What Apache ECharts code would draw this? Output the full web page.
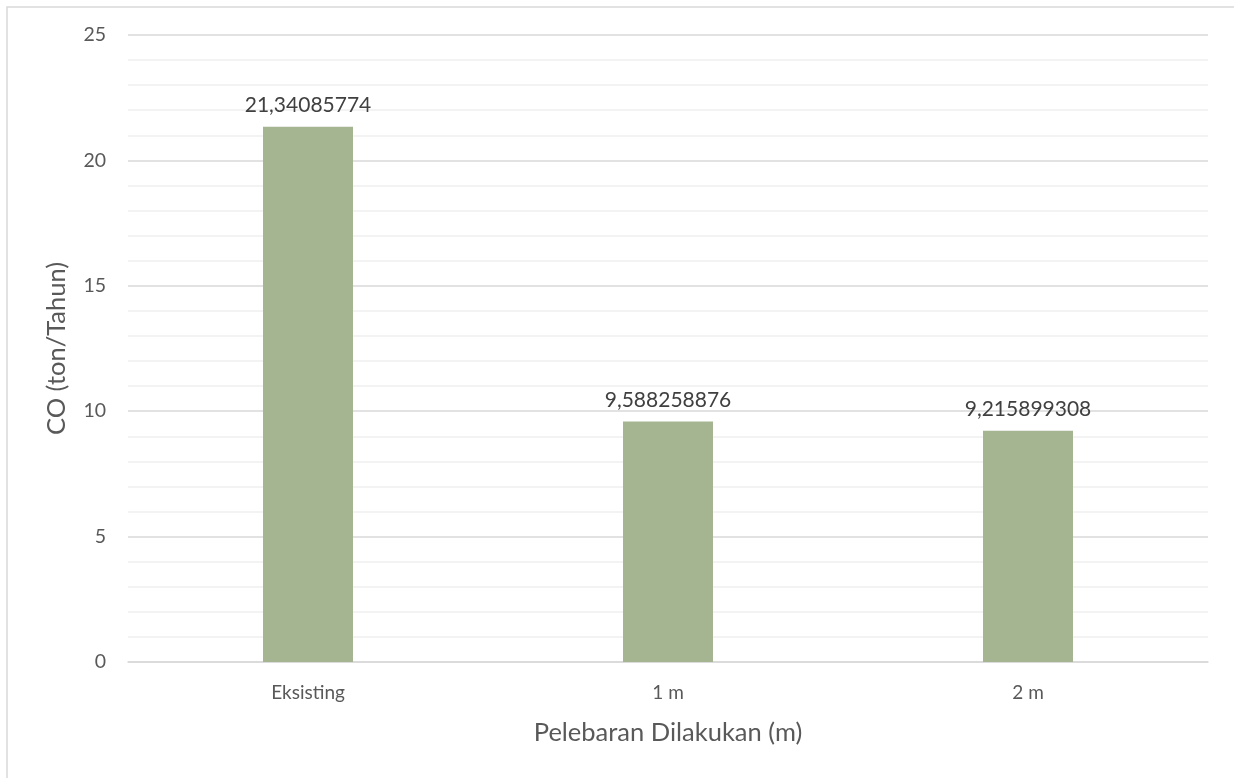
<!DOCTYPE html>
<html>
<head>
<meta charset="utf-8">
<script src="https://cdn.jsdelivr.net/npm/echarts@6/dist/echarts.min.js"></script>
<style>
html,body{margin:0;padding:0;background:#fff;}
#chart{width:1234px;height:778px;}
</style>
</head>
<body>
<div id="chart"></div>
<script>
const categories = ['Eksisting', '1 m', '2 m'];
const coValues = [21.34085774, 9.588258876, 9.215899308];
const yTicks = [0, 5, 10, 15, 20, 25];

const chart = echarts.init(document.getElementById('chart'));
const font = 'Lato, "Open Sans", sans-serif';
chart.setOption({
  animation: false,
  backgroundColor: '#fff',
  textStyle: { fontFamily: font },
  graphic: [{
    type: 'rect',
    shape: { x: 7, y: 7, width: 1300, height: 900 },
    style: { fill: 'none', stroke: '#d9d9d9', lineWidth: 1.5 },
    silent: true
  }],
  grid: { left: 128, right: 26, top: 35, bottom: 116, containLabel: false },
  xAxis: {
    type: 'category',
    data: categories,
    name: 'Pelebaran Dilakukan (m)',
    nameLocation: 'middle',
    nameGap: 58,
    nameTextStyle: { color: '#595959', fontSize: 25.5, fontFamily: font },
    axisLine: { show: true, lineStyle: { color: '#d9d9d9', width: 1.5 } },
    axisTick: { show: false },
    axisLabel: { color: '#595959', fontSize: 19, margin: 21, fontFamily: font }
  },
  yAxis: {
    type: 'value',
    min: yTicks[0],
    max: yTicks[yTicks.length - 1],
    interval: 5,
    name: 'CO (ton/Tahun)',
    nameLocation: 'middle',
    nameGap: 58,
    nameTextStyle: { color: '#595959', fontSize: 25.5, fontFamily: font },
    axisLine: { show: false },
    axisTick: { show: false },
    axisLabel: { color: '#595959', fontSize: 19.5, margin: 22, fontFamily: font },
    splitLine: { show: true, lineStyle: { color: '#d9d9d9', width: 1.5 } },
    minorTick: { show: false, splitNumber: 5 },
    minorSplitLine: { show: true, lineStyle: { color: '#f0f0f0', width: 1.5 } }
  },
  series: [{
    type: 'bar',
    data: coValues,
    barWidth: 90,
    itemStyle: { color: '#A5B592' },
    label: {
      show: true,
      position: 'top',
      distance: 11,
      color: '#404040',
      fontSize: 21,
      fontFamily: font,
      formatter: p => String(p.value).replace('.', ',')
    }
  }]
});
</script>
</body>
</html>
